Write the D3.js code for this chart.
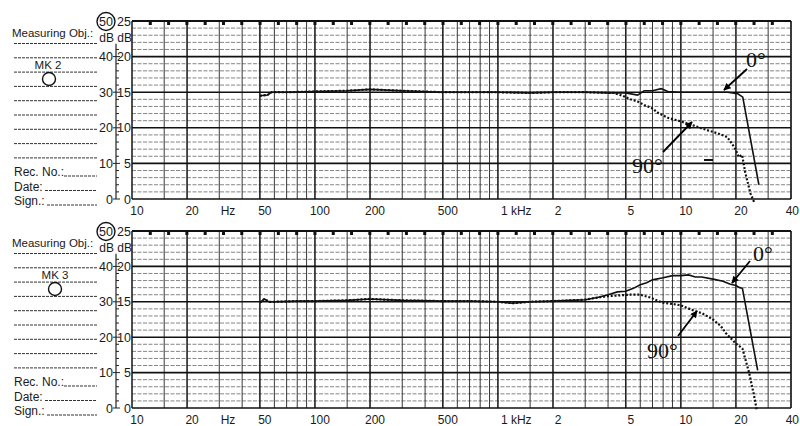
<!DOCTYPE html>
<html>
<head>
<meta charset="utf-8">
<script src="https://cdn.jsdelivr.net/npm/d3@7"></script>
<style>
  body { margin: 0; background: #fff; }
  text { font-family: "Liberation Sans", Arial, sans-serif; fill: #1a1a1a; }
  .anno { font-family: "Liberation Serif", "Times New Roman", serif; fill: #111; }
</style>
</head>
<body>
<svg id="chart" width="800" height="426"></svg>
<script>
const svg = d3.select("svg#chart");

// frequency axis labels
const freq_ticks = [10, 20, 50, 100, 200, 500, 1000, 2000, 5000, 10000, 20000, 40000];
const freq_labels = ["10", "20", "50", "100", "200", "500", "1 kHz", "2", "5", "10", "20", "40"];
const grid_mult = [1, 1.5, 2, 3, 4, 5, 6, 7, 8, 9];
const inner_db = [0, 5, 10, 15, 20, 25];
const outer_db = ["0", "10", "20", "30", "40", "50"];

// MK 2 (upper record)
const mk2_f0 = [50, 55, 58, 70, 100, 150, 200, 300, 500, 700, 1000, 1500, 2000, 3000, 4000, 5000, 5800, 6300, 7000, 7800, 8500, 10000, 12000, 15000, 18000, 20400, 21800, 26700];
const mk2_db0 = [14.5, 14.6, 15.0, 15.0, 15.1, 15.2, 15.4, 15.2, 15.0, 15.0, 15.0, 14.9, 15.0, 15.0, 14.9, 14.9, 14.6, 15.2, 15.2, 15.5, 15.1, 15.0, 15.0, 15.0, 15.0, 14.8, 14.3, 2.0];
const mk2_f90 = [50, 55, 58, 70, 100, 150, 200, 300, 500, 700, 1000, 1500, 2000, 3000, 4300, 4800, 5300, 5800, 6300, 6900, 7500, 8500, 10000, 11500, 13800, 16000, 17900, 19000, 20000, 20700, 21600, 22500, 24000, 25300];
const mk2_db90 = [14.5, 14.6, 15.0, 15.0, 15.1, 15.2, 15.4, 15.2, 15.0, 15.0, 15.0, 14.9, 15.0, 15.0, 14.9, 14.5, 14.0, 13.7, 13.2, 12.8, 12.1, 11.4, 10.9, 10.4, 9.7, 9.2, 8.7, 7.8, 6.9, 5.9, 6.2, 3.7, 0.8, -0.6];

// MK 3 (lower record)
const mk3_f0 = [50, 53, 56, 60, 80, 100, 150, 200, 300, 500, 700, 1000, 1200, 1500, 2000, 2500, 3000, 3500, 4000, 4500, 5000, 5500, 6000, 6500, 7000, 8000, 9000, 10000, 11000, 12000, 13000, 15000, 17000, 18500, 20000, 21000, 21700, 26300];
const mk3_db0 = [14.9, 15.4, 15.0, 15.0, 15.1, 15.1, 15.2, 15.4, 15.2, 15.1, 15.1, 15.0, 14.8, 15.0, 15.1, 15.2, 15.3, 15.6, 16.0, 16.4, 16.5, 16.9, 17.4, 17.7, 18.1, 18.4, 18.7, 18.7, 18.8, 18.5, 18.5, 18.2, 17.9, 17.5, 17.3, 17.0, 16.9, 5.3];
const mk3_f90 = [50, 53, 56, 60, 80, 100, 150, 200, 300, 500, 700, 1000, 1200, 1500, 2000, 2500, 3000, 3500, 4000, 5200, 6000, 6800, 7900, 9000, 10000, 11900, 13000, 14800, 16500, 17600, 20000, 21700, 23600, 25100, 26000];
const mk3_db90 = [14.9, 15.4, 15.0, 15.0, 15.1, 15.1, 15.2, 15.4, 15.2, 15.1, 15.1, 15.0, 14.8, 15.0, 15.1, 15.2, 15.3, 15.6, 15.8, 16.0, 16.0, 15.6, 14.9, 14.7, 14.5, 13.7, 13.4, 12.6, 11.6, 10.6, 9.1, 8.4, 5.0, 1.8, -0.3];

const x = d3.scaleLog().domain([10, 40000]).range([132, 791]);

const panels = [
  { top: 21, bottom: 199, mk: "MK 2", f0: mk2_f0, db0: mk2_db0, f90: mk2_f90, db90: mk2_db90,
    a0: { tx: 746, ty: 67, x1: 747, y1: 69, x2: 724, y2: 90 },
    a90: { tx: 632, ty: 173, x1: 663, y1: 152, x2: 692, y2: 122 } },
  { top: 231, bottom: 408, mk: "MK 3", f0: mk3_f0, db0: mk3_db0, f90: mk3_f90, db90: mk3_db90,
    a0: { tx: 753, ty: 261, x1: 750, y1: 261, x2: 732, y2: 283 },
    a90: { tx: 647, ty: 358, x1: 678, y1: 336, x2: 697, y2: 311 } }
];

svg.append("defs").append("marker")
  .attr("id", "arrow")
  .attr("viewBox", "0 0 10 10")
  .attr("refX", 9).attr("refY", 5)
  .attr("markerWidth", 5).attr("markerHeight", 4)
  .attr("markerUnits", "strokeWidth")
  .attr("orient", "auto")
  .append("path").attr("d", "M0,0 L10,5 L0,10 z").attr("fill", "#000");

// frequency grid positions
let vlines = [];
for (let dec = 10; dec < 40000; dec *= 10) {
  grid_mult.forEach(m => { if (dec * m <= 40000) vlines.push({ f: dec * m, major: [1, 2, 5].includes(m) }); });
}
vlines.push({ f: 40000, major: true });

panels.forEach((p, pi) => {
  const y = d3.scaleLinear().domain([0, 25]).range([p.bottom, p.top]);
  const g = svg.append("g").attr("class", "panel_" + pi);

  // horizontal 1 dB lines
  g.selectAll("line.hminor")
    .data(d3.range(1, 25).filter(d => d % 5 != 0))
    .join("line")
    .attr("class", "hminor")
    .attr("x1", x(10)).attr("x2", x(40000))
    .attr("y1", d => y(d)).attr("y2", d => y(d))
    .attr("stroke", "#666").attr("stroke-width", 0.8)
    .attr("stroke-dasharray", "4 1.5");

  g.selectAll("line.vgrid")
    .data(vlines)
    .join("line")
    .attr("class", "vgrid")
    .attr("x1", d => x(d.f)).attr("x2", d => x(d.f))
    .attr("y1", y(25)).attr("y2", y(0))
    .attr("stroke", "#222")
    .attr("stroke-width", d => d.major ? 1.6 : 0.9);

  g.selectAll("line.hmajor")
    .data(inner_db)
    .join("line")
    .attr("class", "hmajor")
    .attr("x1", x(10)).attr("x2", x(40000))
    .attr("y1", d => y(d)).attr("y2", d => y(d))
    .attr("stroke", "#111").attr("stroke-width", d => d == 25 ? 2 : 1.6);

  // 1/10 decade marks on top edge
  g.selectAll("rect.mark")
    .data(d3.range(1, 36))
    .join("rect")
    .attr("class", "mark")
    .attr("x", d => x(Math.pow(10, 1 + d / 10)) - 1.5)
    .attr("y", y(25))
    .attr("width", 3).attr("height", 4)
    .attr("fill", "#111");

  // curves
  const line = d3.line().x(d => x(d[0])).y(d => y(d[1]));
  g.append("path")
    .datum(p.f0.map((f, i) => [f, p.db0[i]]))
    .attr("d", line)
    .attr("fill", "none").attr("stroke", "#111").attr("stroke-width", 1.6);
  g.append("path")
    .datum(p.f90.map((f, i) => [f, p.db90[i]]))
    .attr("d", line)
    .attr("fill", "none").attr("stroke", "#111").attr("stroke-width", 2.2)
    .attr("stroke-dasharray", "2 1.8");

  // annotations
  [[p.a0, "0°"], [p.a90, "90°"]].forEach(([a, label]) => {
    g.append("text").attr("class", "anno")
      .attr("x", a.tx).attr("y", a.ty)
      .attr("font-size", 22)
      .text(label);
    g.append("line")
      .attr("x1", a.x1).attr("y1", a.y1).attr("x2", a.x2).attr("y2", a.y2)
      .attr("stroke", "#000").attr("stroke-width", 1.8)
      .attr("marker-end", "url(#arrow)");
  });

  // left scale
  g.append("line")
    .attr("x1", 116).attr("x2", 116)
    .attr("y1", y(21.8)).attr("y2", y(0))
    .attr("stroke", "#222").attr("stroke-width", 1.2);
  g.selectAll("line.stick")
    .data(d3.range(0, 22))
    .join("line")
    .attr("class", "stick")
    .attr("x1", d => d % 5 == 0 ? 113 : 116).attr("x2", d => d % 5 == 0 ? 120 : 119)
    .attr("y1", d => y(d)).attr("y2", d => y(d))
    .attr("stroke", "#222").attr("stroke-width", 1);

  g.selectAll("text.inner")
    .data(inner_db)
    .join("text")
    .attr("class", "inner")
    .attr("x", 131).attr("y", d => y(d) + 4.5)
    .attr("text-anchor", "end")
    .attr("font-size", 12.5)
    .text(d => d);
  g.selectAll("text.outer")
    .data(outer_db)
    .join("text")
    .attr("class", "outer")
    .attr("x", 113).attr("y", (d, i) => y(i * 5) + 4.5)
    .attr("text-anchor", "end")
    .attr("font-size", 12.5)
    .text(d => d);
  g.append("circle")
    .attr("cx", 106).attr("cy", y(25) + 0.5).attr("r", 9)
    .attr("fill", "none").attr("stroke", "#111").attr("stroke-width", 1.4);
  g.append("text").attr("x", 114).attr("y", y(25) + 21).attr("text-anchor", "end").attr("font-size", 12).text("dB");
  g.append("text").attr("x", 132).attr("y", y(25) + 21).attr("text-anchor", "end").attr("font-size", 12).text("dB");

  // frequency labels
  g.selectAll("text.flabel")
    .data(freq_ticks)
    .join("text")
    .attr("class", "flabel")
    .attr("x", (d, i) => i == freq_ticks.length - 1 ? 799 : freq_labels[i] == "1 kHz" ? x(d) + 3 : x(d) + 5)
    .attr("y", p.bottom + 16)
    .attr("text-anchor", (d, i) => i == freq_ticks.length - 1 ? "end" : freq_labels[i] == "1 kHz" ? "start" : "middle")
    .attr("font-size", 12)
    .text((d, i) => freq_labels[i]);
  g.append("text").attr("x", 228).attr("y", p.bottom + 16)
    .attr("text-anchor", "middle").attr("font-size", 12).text("Hz");

  // record form on the left
  g.append("text").attr("x", 12).attr("y", p.top + 16)
    .attr("font-size", 11.5).text("Measuring Obj.:");
  g.selectAll("line.form")
    .data(d3.range(0, 9))
    .join("line")
    .attr("class", "form")
    .attr("x1", 14).attr("x2", 97)
    .attr("y1", d => p.top + 22.5 + d * 14.3).attr("y2", d => p.top + 22.5 + d * 14.3)
    .attr("stroke", "#333").attr("stroke-width", 1)
    .attr("stroke-dasharray", "3 1");
  g.append("text").attr("x", pi == 0 ? 48 : 55).attr("y", p.top + 48)
    .attr("text-anchor", "middle").attr("font-size", 11.5)
    .attr("font-family", "DejaVu Sans Mono").text(p.mk);
  g.append("circle")
    .attr("cx", pi == 0 ? 49 : 55).attr("cy", p.top + 58).attr("r", 6.5)
    .attr("fill", "none").attr("stroke", "#111").attr("stroke-width", 1.4);

  [["Rec. No.:", 155, 50], ["Date:", 169.5, 31], ["Sign.:", 184, 33]].forEach(([t, dy, w]) => {
    g.append("text").attr("x", 14).attr("y", p.top + dy)
      .attr("font-size", 12).text(t);
    g.append("line")
      .attr("x1", 14 + w).attr("x2", 97)
      .attr("y1", p.top + dy).attr("y2", p.top + dy)
      .attr("stroke", "#333").attr("stroke-width", 1)
      .attr("stroke-dasharray", "3 1");
  });
});

// stray pen mark in the upper record
svg.append("line")
  .attr("x1", 704).attr("x2", 713).attr("y1", 160).attr("y2", 160)
  .attr("stroke", "#111").attr("stroke-width", 2);
</script>
</body>
</html>
